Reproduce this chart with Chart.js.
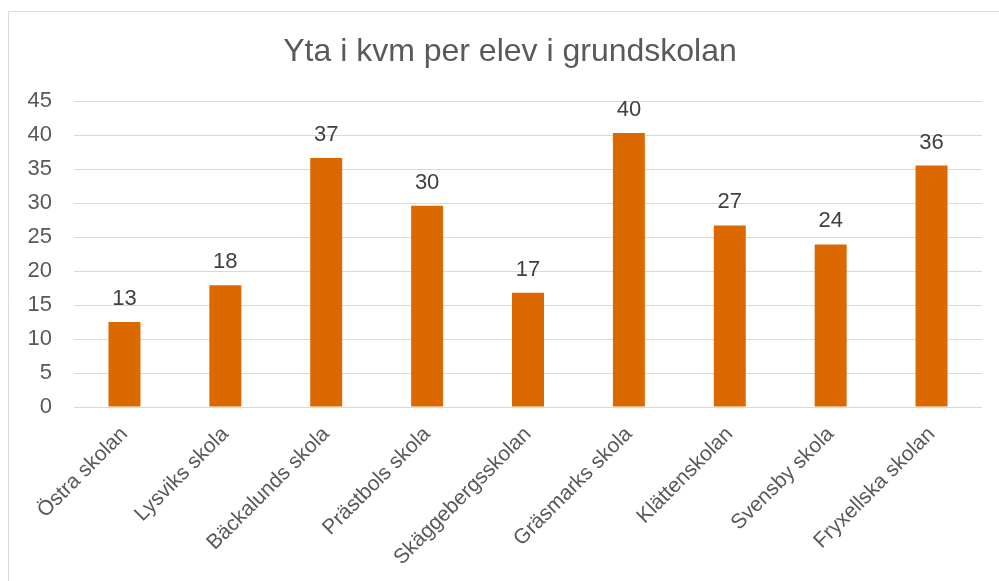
<!DOCTYPE html>
<html lang="sv">
<head>
  <meta charset="UTF-8" />
  <title>Yta i kvm per elev i grundskolan</title>
  <script src="https://cdn.jsdelivr.net/npm/chart.js"></script>
  <style>
    html, body { margin: 0; padding: 0; background: #fff; }
    #wrap { position: relative; width: 999px; height: 581px; }
  </style>
</head>
<body>
  <div id="wrap">
    <canvas id="ytaChart" width="999" height="581"></canvas>
  </div>

  <script>
    const titel = 'Yta i kvm per elev i grundskolan';
    const skolor = ['Östra skolan', 'Lysviks skola', 'Bäckalunds skola', 'Prästbols skola', 'Skäggebergsskolan',
                    'Gräsmarks skola', 'Klättenskolan', 'Svensby skola', 'Fryxellska skolan'];
    const ytaPerElev = [12.5, 17.9, 36.6, 29.6, 16.8, 40.3, 26.7, 23.9, 35.5];
    const yTicks = [0, 5, 10, 15, 20, 25, 30, 35, 40, 45];

    const FONT = "'Liberation Sans', Arial, sans-serif";

    // frame (only top and left edges show) + title, which sits a bit right of the canvas centre
    const framePlugin = {
      id: 'frame',
      beforeDraw(chart) {
        const ctx = chart.ctx;
        ctx.save();
        ctx.strokeStyle = '#d9d9d9';
        ctx.lineWidth = 1;
        ctx.beginPath();
        ctx.moveTo(8.5, 581);
        ctx.lineTo(8.5, 11.5);
        ctx.lineTo(999, 11.5);
        ctx.stroke();

        ctx.font = '32px ' + FONT;
        ctx.fillStyle = '#595959';
        ctx.textAlign = 'center';
        ctx.textBaseline = 'alphabetic';
        ctx.fillText(titel, 510, 61);
        ctx.restore();
      }
    };

    // value labels above the bars, rounded like the original
    const valuePlugin = {
      id: 'values',
      afterDatasetsDraw(chart) {
        const ctx = chart.ctx;
        const meta = chart.getDatasetMeta(0);
        ctx.save();
        ctx.font = '22px ' + FONT;
        ctx.fillStyle = '#404040';
        ctx.textAlign = 'center';
        ctx.textBaseline = 'alphabetic';
        meta.data.forEach((bar, i) => {
          ctx.fillText(Math.round(ytaPerElev[i]), bar.x, bar.y - 17);
        });
        ctx.restore();
      }
    };

    new Chart(document.getElementById('ytaChart'), {
      type: 'bar',
      data: {
        labels: skolor,
        datasets: [{
          data: ytaPerElev,
          backgroundColor: '#dc6900',
          borderWidth: 0,
          barPercentage: 0.317,
          categoryPercentage: 1
        }]
      },
      options: {
        responsive: false,
        animation: false,
        layout: { padding: { left: 0, right: 17, top: 101, bottom: 0 } },
        plugins: {
          legend: { display: false },
          tooltip: { enabled: false },
          title: { display: false }
        },
        scales: {
          x: {
            grid: { display: false },
            border: { display: false },
            ticks: {
              color: '#595959',
              font: { family: FONT, size: 21 },
              minRotation: 45,
              maxRotation: 45,
              padding: 7
            },
            afterFit(scale) { scale.height = 174; }
          },
          y: {
            min: 0,
            max: 45,
            afterBuildTicks(scale) { scale.ticks = yTicks.map(v => ({ value: v })); },
            grid: { color: '#d9d9d9', lineWidth: 1, drawTicks: false },
            border: { display: false },
            ticks: {
              color: '#595959',
              font: { family: FONT, size: 22 },
              padding: 22
            },
            afterFit(scale) { scale.width = 74; }
          }
        }
      },
      plugins: [framePlugin, valuePlugin]
    });
  </script>
</body>
</html>
